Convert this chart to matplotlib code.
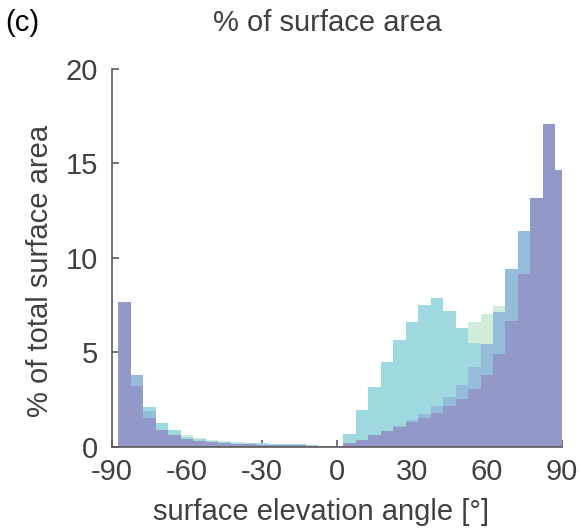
import numpy as np
import matplotlib
matplotlib.use("Agg")
import matplotlib.pyplot as plt

plt.rcParams["font.family"] = ["Liberation Sans", "DejaVu Sans"]
plt.rcParams["axes.unicode_minus"] = False

# bin centres [deg], 5 deg wide
angles = np.arange(-90, 91, 5)

# % of total surface area per bin, four overlapping histograms
# (drawn back to front; hidden parts are rough guesses)
green = [0, 6.8, 3.4, 2.0, 1.2, 0.85, 0.63, 0.48, 0.37, 0.32, 0.26, 0.20, 0.20,
         0.15, 0.15, 0.15, 0.10, 0.05, 0.05, 0.60, 1.80, 3.00, 4.30, 5.40, 6.30,
         7.20, 7.50, 7.00, 6.20, 6.61, 7.04, 7.46, 8.80, 10.8, 12.3, 15.8, 13.8]
cyan = [0, 7.0, 3.5, 2.12, 1.27, 0.90, 0.53, 0.42, 0.32, 0.26, 0.21, 0.21, 0.21,
        0.16, 0.16, 0.16, 0.11, 0.05, 0.05, 0.69, 1.96, 3.17, 4.50, 5.66, 6.61,
        7.51, 7.88, 7.19, 6.30, 5.50, 5.30, 6.90, 9.00, 11.0, 12.5, 16.0, 14.0]
blue = [0, 7.3, 3.81, 1.90, 0.85, 0.60, 0.40, 0.30, 0.25, 0.20, 0.15, 0.15, 0.10,
        0.10, 0.10, 0.10, 0.05, 0.05, 0.05, 0.20, 0.35, 0.60, 0.82, 1.11, 1.43,
        1.75, 2.17, 2.65, 3.28, 4.23, 5.45, 7.14, 9.42, 11.43, 12.9, 16.5, 14.2]
purple = [0, 7.67, 3.24, 1.53, 0.90, 0.63, 0.42, 0.32, 0.26, 0.21, 0.16, 0.16, 0.11,
          0.11, 0.11, 0.11, 0.05, 0.05, 0.05, 0.21, 0.37, 0.63, 0.85, 1.06, 1.32,
          1.53, 1.80, 2.17, 2.54, 3.07, 3.81, 4.92, 6.67, 9.15, 13.17, 17.09, 14.66]

series = [
    (green, "#d0ebd8"),
    (cyan, "#9fd9e0"),
    (blue, "#95bddb"),
    (purple, "#9299c9"),
]

txt = "#404040"
axc = "#5a5a5a"
fs = 21

fig = plt.figure(figsize=(5.81, 5.30), dpi=100)
ax = fig.add_axes([112 / 581, 1 - 447 / 530, (561.7 - 112) / 581, (447 - 68.7) / 530])

for vals, col in series:
    ax.bar(angles, vals, width=5, align="center", color=col, linewidth=0, zorder=2)

ax.set_xlim(-90, 90)
ax.set_ylim(0, 20)
ax.set_xticks([-90, -60, -30, 0, 30, 60, 90])
ax.set_yticks([0, 5, 10, 15, 20])
ax.set_axisbelow(True)

for side in ["top", "right"]:
    ax.spines[side].set_visible(False)
for side in ["left", "bottom"]:
    ax.spines[side].set_color(axc)
    ax.spines[side].set_linewidth(1.2)
    ax.spines[side].set_zorder(3)

ax.tick_params(axis="both", direction="in", length=5, width=1.2, color=axc,
               labelsize=fs, labelcolor=txt)
ax.tick_params(axis="x", pad=8)
ax.tick_params(axis="y", pad=10)

fig.text(327 / 581, 1 - 23 / 530, "% of surface area", ha="center", va="center",
         fontsize=fs, color=txt)
fig.text(5 / 581, 1 - 23 / 530, "(c)", ha="left", va="center", fontsize=fs, color="black")
fig.text(321 / 581, 1 - 512 / 530, "surface elevation angle [°]", ha="center", va="center",
         fontsize=fs, color=txt)
fig.text(40 / 581, 1 - 271 / 530, "% of total surface area", ha="center", va="center",
         rotation=90, fontsize=fs, color=txt)

fig.savefig("out.png", dpi=100)
